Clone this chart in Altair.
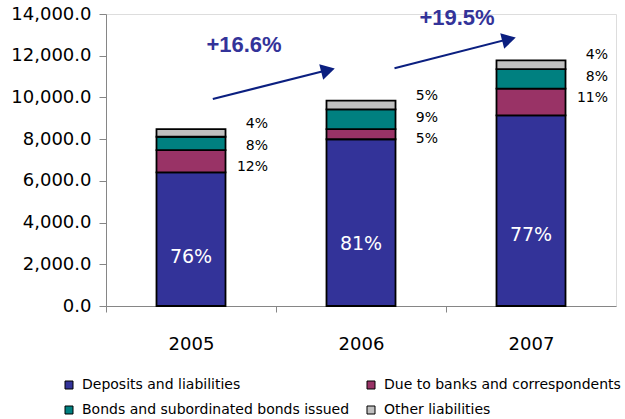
import altair as alt
import pandas as pd

years = ["2005", "2006", "2007"]
categories = [
    "Deposits and liabilities",
    "Due to banks and correspondents",
    "Bonds and subordinated bonds issued",
    "Other liabilities",
]
deposits = [6410, 7995, 9140]
due_banks = [1065, 490, 1280]
bonds = [640, 945, 935]
other = [370, 412, 425]
pct_deposits = [76, 81, 77]
pct_banks = [12, 5, 11]
pct_bonds = [8, 9, 8]
pct_other = [4, 5, 4]
growth_labels = ["+16.6%", "+19.5%"]
colors = ["#333399", "#993366", "#008080", "#C0C0C0"]

rows = []
for k, (cat, vals, pcts) in enumerate(zip(categories,
                                          [deposits, due_banks, bonds, other],
                                          [pct_deposits, pct_banks, pct_bonds, pct_other])):
    for yr, v, p in zip(years, vals, pcts):
        rows.append({"year": yr, "category": cat, "value": v, "pct": f"{p}%", "order": k})
df = pd.DataFrame(rows)

FONT = "DejaVu Sans"
ARROW = "#0B1F80"
TXT = "#333399"

x_enc = alt.X(
    "year:N",
    scale=alt.Scale(paddingInner=0.594, paddingOuter=0.297),
    axis=alt.Axis(
        title=None, labelAngle=0, labelFontSize=18, labelColor="black",
        domainColor="#868686", tickColor="#868686", tickSize=6,
        bandPosition=0.5, tickOffset=-85, labelOffset=85, labelPadding=23,
    ),
)
y_scale = alt.Scale(domain=[0, 14000], nice=False)
y_axis = alt.Axis(
    title=None, values=[0, 2000, 4000, 6000, 8000, 10000, 12000, 14000],
    format=",.1f", labelFontSize=18, labelColor="black", grid=False,
    domainColor="#868686", tickColor="#868686", tickSize=7, labelPadding=8,
)

base = alt.Chart(df)

bars = base.mark_bar(stroke="black", strokeWidth=1.8).encode(
    x=x_enc,
    y=alt.Y("value:Q", stack="zero", scale=y_scale, axis=y_axis),
    color=alt.Color(
        "category:N",
        scale=alt.Scale(domain=categories, range=colors),
        legend=alt.Legend(
            title=None, orient="none", legendX=-44, legendY=364, columns=2,
            direction="horizontal",
            symbolType="square", symbolSize=64, symbolStrokeColor="black",
            symbolStrokeWidth=1, symbolOpacity=1, labelFontSize=14, labelFont=FONT,
            labelColor="black", columnPadding=14, rowPadding=11, labelOffset=6,
            padding=0, labelLimit=400,
        ),
    ),
    order=alt.Order("order:Q", sort="ascending"),
)

inner = base.transform_filter(
    alt.datum.category == categories[0]
).transform_calculate(
    anchor="datum.value * 0.37"
).mark_text(color="white", fontSize=19, font=FONT, baseline="middle").encode(
    x="year:N", y="anchor:Q", text="pct:N"
)

side_layers = []
for cat, dy in zip(categories[1:][::-1], [-5, 17, 38]):
    side_layers.append(
        base.transform_joinaggregate(total="sum(value)", groupby=["year"])
        .transform_filter(alt.datum.category == cat)
        .mark_text(color="black", fontSize=14, font=FONT, align="right",
                   baseline="middle", dx=77, dy=dy)
        .encode(x="year:N", y="total:Q", text="pct:N")
    )

one = alt.Chart(pd.DataFrame({"k": [0]}))

arrow1 = one.mark_rule(color=ARROW, strokeWidth=2, xOffset=21.8, x2Offset=-30).encode(
    x=alt.datum("2005"), x2=alt.datum("2006"), y=alt.datum(9925), y2=alt.datum(11350)
)
head1 = one.mark_point(shape="triangle-right", size=260, filled=True, color=ARROW,
                       opacity=1, angle=346, xOffset=-33, yOffset=2).encode(
    x=alt.datum("2006"), y=alt.datum(11397)
)
arrow2 = one.mark_rule(color=ARROW, strokeWidth=2, xOffset=33.5, x2Offset=-19).encode(
    x=alt.datum("2006"), x2=alt.datum("2007"), y=alt.datum(11397), y2=alt.datum(12840)
)
head2 = one.mark_point(shape="triangle-right", size=260, filled=True, color=ARROW,
                       opacity=1, angle=346, xOffset=-22, yOffset=2).encode(
    x=alt.datum("2007"), y=alt.datum(12883)
)
g1 = one.mark_text(color=TXT, font="Liberation Sans", fontWeight="bold", fontSize=22,
                   baseline="middle", xOffset=53).encode(
    x=alt.datum("2005"), y=alt.datum(12514), text=alt.value(growth_labels[0])
)
g2 = one.mark_text(color=TXT, font="Liberation Sans", fontWeight="bold", fontSize=22,
                   baseline="middle", xOffset=96).encode(
    x=alt.datum("2006"), y=alt.datum(13808), text=alt.value(growth_labels[1])
)

chart = alt.layer(
    bars, inner, *side_layers, arrow1, arrow2, head1, head2, g1, g2
).properties(
    width=510, height=292,
    padding={"left": 106, "top": 14, "right": 9, "bottom": 113},
    autosize=alt.AutoSizeParams(type="none"),
).configure_view(stroke=None).configure(font=FONT)

chart.save("out.html", embed_options={"renderer": "svg", "actions": False})
